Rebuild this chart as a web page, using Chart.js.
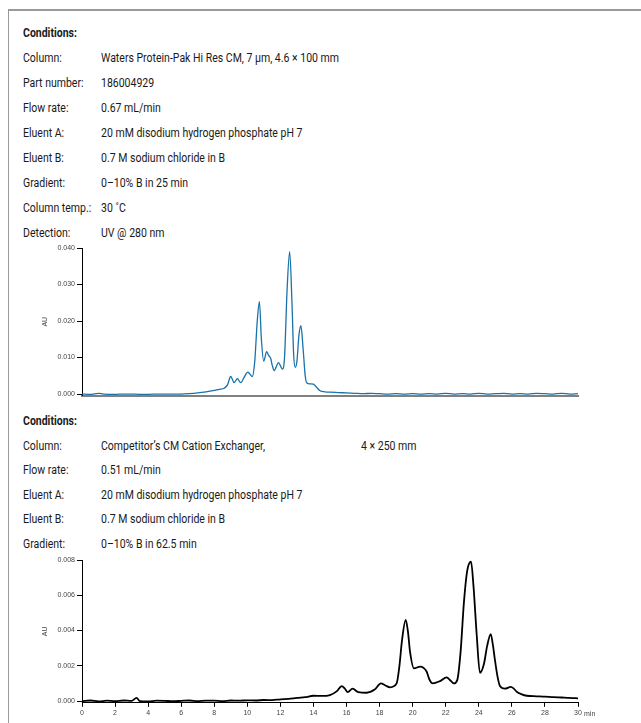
<!DOCTYPE html>
<html>
<head>
<meta charset="utf-8">
<script src="https://cdn.jsdelivr.net/npm/chart.js@4"></script>
<style>
  html, body { margin:0; padding:0; background:#fff; }
  body { width:641px; height:723px; position:relative; overflow:hidden; }
  .frame { position:absolute; left:8px; top:9px; width:640px; height:720px; border-left:1px solid #9a9a9a; border-top:2px solid #9a9a9a; }
  .t { position:absolute; font-family:Roboto,"Liberation Sans",sans-serif; font-size:13.6px; line-height:16px; color:#1a1a1a; white-space:nowrap; transform-origin:0 50%; }
  .b { font-weight:bold; }
  canvas { position:absolute; left:0; }
</style>
</head>
<body>
<div class="frame"></div>
<div id="txt"></div>
<canvas id="c1" style="top:230px" width="641" height="180"></canvas>
<canvas id="c2" style="top:550px" width="641" height="173"></canvas>
<script>
// ---- condition text ----
const topConditions = [
  ["Column:", "Waters Protein-Pak Hi Res CM, 7 µm, 4.6 × 100 mm"],
  ["Part number:", "186004929"],
  ["Flow rate:", "0.67 mL/min"],
  ["Eluent A:", "20 mM disodium hydrogen phosphate pH 7"],
  ["Eluent B:", "0.7 M sodium chloride in B"],
  ["Gradient:", "0–10% B in 25 min"],
  ["Column temp.:", "30 ˚C"],
  ["Detection:", "UV @ 280 nm"]
];
const bottomConditions = [
  ["Column:", "Competitor’s CM Cation Exchanger,"],
  ["Flow rate:", "0.51 mL/min"],
  ["Eluent A:", "20 mM disodium hydrogen phosphate pH 7"],
  ["Eluent B:", "0.7 M sodium chloride in B"],
  ["Gradient:", "0–10% B in 62.5 min"]
];

// ---- top chromatogram (Waters) ----
const topTime = [0,0.5,1.0,1.3,2,2.5,3,3.5,4,4.5,5,5.5,6,6.5,7.0,7.5,8.0,8.3,8.6,8.8,8.99,9.1,9.19,9.4,9.6,9.8,10.02,10.15,10.3,10.45,10.6,10.73,10.85,10.99,11.17,11.3,11.41,11.5,11.63,11.75,11.88,12.0,12.12,12.25,12.4,12.56,12.7,12.8,12.9,13.0,13.12,13.24,13.38,13.5,13.59,13.8,13.99,14.2,14.4,14.7,15.0,15.5,16,16.5,17,17.5,18,18.5,19,19.5,20,20.5,21,21.5,22,22.5,23,23.5,24,24.5,25,25.5,26,26.5,27,27.5,28,28.5,29,29.5,30];
const topAU   = [0.0000,-0.0001,0.0002,0.0000,-0.0001,0.0000,0.0000,-0.0001,-0.0001,0.0000,0.0000,0.0000,0.0000,0.0001,0.0003,0.0006,0.0010,0.0013,0.0016,0.0025,0.0048,0.0040,0.0031,0.0042,0.0031,0.0045,0.0060,0.0055,0.0048,0.0090,0.0200,0.0253,0.0150,0.0090,0.0116,0.0105,0.0098,0.0080,0.0064,0.0075,0.0086,0.0078,0.0068,0.0100,0.0280,0.0390,0.0250,0.0110,0.0073,0.0090,0.0160,0.0187,0.0120,0.0050,0.0031,0.0028,0.0027,0.0018,0.0009,0.0006,0.0005,0.0004,0.0003,0.0002,0.0001,0.0002,0.0001,0.0000,0.0001,0.0000,0.0001,0.0000,0.0001,0.0000,0.0002,0.0000,0.0001,0.0000,0.0002,0.0000,0.0001,0.0002,0.0000,0.0001,0.0000,0.0002,0.0001,0.0000,0.0002,0.0000,0.0001];

// ---- bottom chromatogram (competitor) ----
const botTime = [0,0.5,1.0,1.5,2.0,2.5,3.0,3.3,3.5,4.0,4.5,5,5.5,6,6.5,7,7.5,8,8.5,9,9.5,10,10.5,11,11.5,12,12.5,13,13.5,14.0,14.5,15.0,15.4,15.71,15.9,16.07,16.37,16.71,17.22,17.7,18.08,18.35,18.63,19.03,19.2,19.35,19.58,19.72,19.84,20.08,20.45,20.85,21.0,21.21,21.65,22.05,22.3,22.5,22.7,22.9,23.1,23.3,23.53,23.68,23.87,24.07,24.31,24.5,24.72,24.85,24.98,25.13,25.28,25.58,25.93,26.1,26.29,26.6,26.9,27.5,28.0,28.5,29.0,29.5,30.0];
const botAU   = [0.00000,0.00003,-0.00002,0.00002,0.00000,0.00003,0.00001,0.00018,0.00000,-0.00002,0.00002,0.00001,-0.00001,0.00001,0.00003,0.00000,0.00002,0.00002,0.00000,0.00003,0.00002,0.00004,0.00003,0.00006,0.00005,0.00010,0.00012,0.00018,0.00022,0.00030,0.00029,0.00034,0.00055,0.00085,0.00070,0.00050,0.00070,0.00050,0.00047,0.00065,0.00100,0.00088,0.00078,0.00100,0.00200,0.00340,0.00460,0.00390,0.00280,0.00185,0.00195,0.00166,0.00125,0.00100,0.00113,0.00134,0.00115,0.00100,0.00120,0.00280,0.00560,0.00740,0.00790,0.00650,0.00380,0.00160,0.00210,0.00310,0.00380,0.00320,0.00230,0.00140,0.00085,0.00070,0.00080,0.00072,0.00053,0.00038,0.00030,0.00027,0.00025,0.00022,0.00020,0.00018,0.00015];

const yTicksTop = [0, 0.01, 0.02, 0.03, 0.04];
const yTicksBot = [0, 0.002, 0.004, 0.006, 0.008];
const xTicks = [0,2,4,6,8,10,12,14,16,18,20,22,24,26,28,30];

// ---- write text (condensed look via horizontal scale) ----
const mctx = document.createElement('canvas').getContext('2d');
mctx.font = '13.6px Roboto';
const sx = 238 / mctx.measureText(topConditions[0][1]).width;
const txt = document.getElementById('txt');
function addText(x, y, s, bold) {
  const d = document.createElement('div');
  d.className = 't' + (bold ? ' b' : '');
  d.style.left = x + 'px'; d.style.top = (y - 8) + 'px';
  d.style.transform = 'scaleX(' + sx + ')';
  d.textContent = s; txt.appendChild(d);
}
addText(23, 32, 'Conditions:', true);
topConditions.forEach((r, i) => { addText(23, 57 + 25*i, r[0]); addText(101, 57 + 25*i, r[1]); });
addText(23, 420, 'Conditions:', true);
bottomConditions.forEach((r, i) => { addText(23, 444.5 + 24.5*i, r[0]); addText(101, 444.5 + 24.5*i, r[1]); });
addText(361, 444.5, '4 × 250 mm');

const tickFont = { family: '"Liberation Sans", Arial, sans-serif', size: 7 };
const tickColor = '#444';

function pts(t, v) { return t.map((x, i) => ({ x: x, y: v[i] })); }

// ---- top chart ----
new Chart(document.getElementById('c1'), {
  type: 'line',
  data: { datasets: [{ data: pts(topTime, topAU), borderColor: '#1a72aa', borderWidth: 1.3, pointRadius: 0, cubicInterpolationMode: 'monotone', fill: false }] },
  options: {
    responsive: false, animation: false, events: [],
    layout: { padding: { left: 0, right: 63, top: 18, bottom: 0 } },
    plugins: { legend: { display: false }, tooltip: { enabled: false } },
    scales: {
      x: { type: 'linear', min: 0, max: 30,
        ticks: { display: false },
        grid: { display: false },
        border: { display: true, color: '#808080', width: 2 },
        afterFit: s => { s.height = 14.5; } },
      y: { type: 'linear', min: -0.0004, max: 0.040,
        afterBuildTicks: s => { s.ticks = yTicksTop.map(v => ({ value: v })); },
        ticks: { font: tickFont, color: tickColor, padding: 2, callback: v => Number(v).toFixed(3) },
        grid: { drawOnChartArea: false, drawTicks: true, tickLength: 5, color: '#000' },
        border: { display: true, color: '#000', width: 1 },
        title: { display: true, text: 'AU', font: tickFont, color: tickColor, padding: { top: 41, bottom: 0 } },
        afterFit: s => { s.width = 82; } }
    }
  }
});

// ---- bottom chart ----
const minLabel = {
  id: 'minLabel',
  afterDraw(chart) {
    const xs = chart.scales.x, ctx = chart.ctx;
    ctx.save();
    ctx.font = '7px "Liberation Sans", Arial, sans-serif';
    ctx.fillStyle = tickColor; ctx.textBaseline = 'middle'; ctx.textAlign = 'left';
    ctx.fillText('min', xs.getPixelForValue(30) + 6, xs.top + 11.3);
    ctx.restore();
  }
};
new Chart(document.getElementById('c2'), {
  type: 'line',
  data: { datasets: [{ data: pts(botTime, botAU), borderColor: '#000', borderWidth: 1.8, pointRadius: 0, cubicInterpolationMode: 'monotone', fill: false }] },
  options: {
    responsive: false, animation: false, events: [],
    layout: { padding: { left: 0, right: 63, top: 10, bottom: 0 } },
    plugins: { legend: { display: false }, tooltip: { enabled: false } },
    scales: {
      x: { type: 'linear', min: 0, max: 30,
        afterBuildTicks: s => { s.ticks = xTicks.map(v => ({ value: v })); },
        ticks: { font: tickFont, color: tickColor, padding: 2, maxRotation: 0, autoSkip: false, callback: v => String(v) },
        grid: { drawOnChartArea: false, drawTicks: true, tickLength: 4, color: '#000' },
        border: { display: true, color: '#000', width: 1 },
        afterFit: s => { s.height = 20.2; } },
      y: { type: 'linear', min: -0.0001, max: 0.008,
        afterBuildTicks: s => { s.ticks = yTicksBot.map(v => ({ value: v })); },
        ticks: { font: tickFont, color: tickColor, padding: 2, callback: v => Number(v).toFixed(3) },
        grid: { drawOnChartArea: false, drawTicks: true, tickLength: 5, color: '#000' },
        border: { display: true, color: '#000', width: 1 },
        title: { display: true, text: 'AU', font: tickFont, color: tickColor, padding: { top: 41, bottom: 0 } },
        afterFit: s => { s.width = 82; } }
    }
  },
  plugins: [minLabel]
});
</script>
</body>
</html>
